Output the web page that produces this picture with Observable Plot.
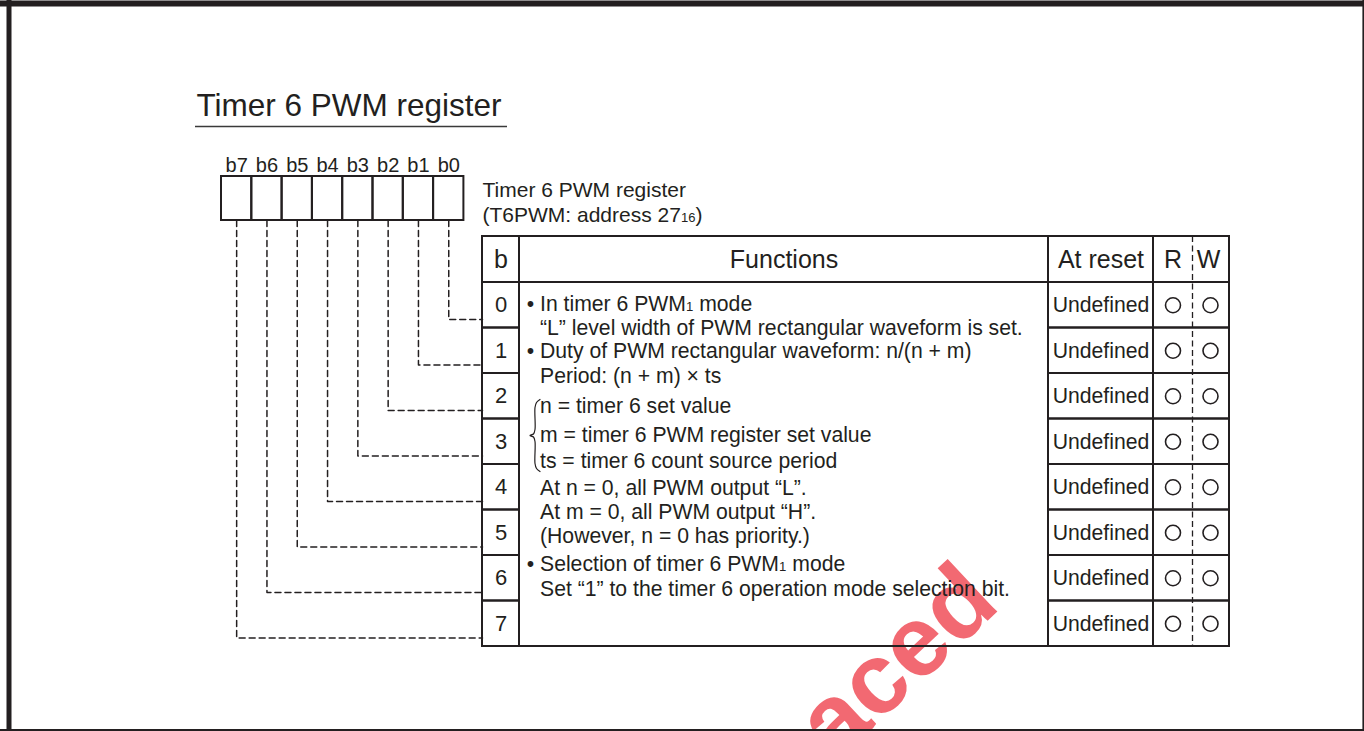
<!DOCTYPE html>
<html>
<head>
<meta charset="utf-8">
<script src="https://cdn.jsdelivr.net/npm/d3@7"></script>
<script src="https://cdn.jsdelivr.net/npm/@observablehq/plot@0.6"></script>
<style>
  html, body { margin: 0; padding: 0; background: #fff; overflow: hidden; }
  #chart { width: 1364px; height: 731px; }
</style>
</head>
<body>
<div id="chart"></div>
<script>
// ---------------- DATA ----------------
const title = "Timer 6 PWM register";
const bitLabels = ["b7", "b6", "b5", "b4", "b3", "b2", "b1", "b0"];
const bitNumbers = [7, 6, 5, 4, 3, 2, 1, 0];
const registerName = ["Timer 6 PWM register", "(T6PWM: address 27_16)"];
const headers = ["b", "Functions", "At reset", "R", "W"];
const rowBits = ["0", "1", "2", "3", "4", "5", "6", "7"];
const resetValues = ["Undefined", "Undefined", "Undefined", "Undefined", "Undefined", "Undefined", "Undefined", "Undefined"];
const readAccess = ["○", "○", "○", "○", "○", "○", "○", "○"];
const writeAccess = ["○", "○", "○", "○", "○", "○", "○", "○"];
const functionText = [
  "In timer 6 PWM_1 mode",
  "“L” level width of PWM rectangular waveform is set.",
  "Duty of PWM rectangular waveform: n/(n + m)",
  "Period: (n + m) × ts",
  "n = timer 6 set value",
  "m = timer 6 PWM register set value",
  "ts = timer 6 count source period",
  "At n = 0, all PWM output “L”.",
  "At m = 0, all PWM output “H”.",
  "(However, n = 0 has priority.)",
  "Selection of timer 6 PWM_1 mode",
  "Set “1” to the timer 6 operation mode selection bit."
];
const bulletLines = [0, 2, 10];
const braceLines = [4, 6];
const watermark = ["aced"];

// ---------------- LAYOUT ----------------
const L = {
  W: 1364, H: 731,
  ink: "#231f20",
  titleX: 196, titleY: 115, titleFont: 31.5, underlineY: 126, underlineX1: 195, underlineX2: 507,
  boxX: 221, cellW: 30.3, boxTop: 176, boxBottom: 220, bitLabelY: 171, bitFont: 20,
  subX: 482, subY: [196, 221], subFont: 21,
  colX: [482, 519, 1048, 1153, 1192, 1229],
  tableTop: 236, headerBottom: 282, rowH: 45.5,
  leaderOffset: 37,
  headerFont: 25, digitFont: 22, bodyFont: 21.2,
  funcX: 539.5, bulletX: 530,
  funcBaselines: [310, 334, 357, 382, 412, 441, 467, 494, 518, 542, 570, 595],
  wmX: 835, wmY: 762, wmFont: 100, wmRotate: -43, wmSpacing: 14
};

const rowTop = i => L.headerBottom + i * L.rowH;
const rowMid = i => rowTop(i) + L.rowH / 2;
const cellCenter = k => L.boxX + L.cellW * (k + 0.5);

// derived tables (from the data arrays above)
const boxCells = bitLabels.map((label, k) => ({label, k, x1: L.boxX + L.cellW * k, x2: L.boxX + L.cellW * (k + 1)}));

const leaders = bitNumbers.flatMap((b, k) => {
  const cx = cellCenter(k), ly = rowTop(b) + L.leaderOffset;
  return [
    {bit: b, x: cx, y: L.boxBottom},
    {bit: b, x: cx, y: ly},
    {bit: b, x: L.colX[0], y: ly}
  ];
});

const c = L.colX;
const headerCells = [[c[0], c[1]], [c[1], c[2]], [c[2], c[3]], [c[3], c[5]]]
  .map(([x1, x2]) => ({x1, x2, y1: L.tableTop, y2: L.headerBottom}));
const bodyCells = rowBits.flatMap((_, i) => [[c[0], c[1]], [c[2], c[3]], [c[3], c[5]]]
  .map(([x1, x2]) => ({x1, x2, y1: rowTop(i), y2: rowTop(i) + L.rowH})));
const functionCell = [{x1: c[1], x2: c[2], y1: L.headerBottom, y2: rowTop(rowBits.length)}];

const headerPos = [ (c[0]+c[1])/2, (c[1]+c[2])/2, (c[2]+c[3])/2, (c[3]+c[4])/2, (c[4]+c[5])/2 - 2.5 ];
const headerData = headers.map((h, i) => ({h, x: headerPos[i], y: (L.tableTop + L.headerBottom) / 2}));

const rowData = rowBits.map((b, i) => ({b, reset: resetValues[i], r: readAccess[i], w: writeAccess[i], y: rowMid(i)}));
const accessDots = rowData.flatMap(d => [
  ...(d.r === "○" ? [{x: (c[3] + c[4]) / 2, y: d.y}] : []),
  ...(d.w === "○" ? [{x: (c[4] + c[5]) / 2 - 0.5, y: d.y}] : [])
]);

const funcData = functionText.map((t, i) => ({t, i, y: L.funcBaselines[i]}));
const bulletData = bulletLines.map(i => ({i, y: L.funcBaselines[i]}));

// brace beside lines braceLines[0]..braceLines[1]
const bTop = L.funcBaselines[braceLines[0]] - 13;
const bBot = L.funcBaselines[braceLines[1]] + 4;
const bMid = (bTop + bBot) / 2;
const fx = L.funcX;
const brace = [
  [fx, bTop], [fx - 3.5, bTop + 3], [fx - 5, bTop + 8], [fx - 5, bMid - 6], [fx - 6.5, bMid - 1.5], [fx - 10, bMid],
  [fx - 6.5, bMid + 1.5], [fx - 5, bMid + 6], [fx - 5, bBot - 8], [fx - 3.5, bBot - 3], [fx, bBot]
].map(([x, y]) => ({x, y}));

// ---------------- PLOT ----------------
const plot = Plot.plot({
  width: L.W, height: L.H,
  margin: 0,
  x: {domain: [0, L.W], range: [0, L.W], axis: null},
  y: {domain: [0, L.H], range: [0, L.H], axis: null},
  style: {fontFamily: "'Liberation Sans', Arial, Helvetica, sans-serif", background: "#fff", color: L.ink, overflow: "hidden"},
  marks: [
    // watermark
    Plot.text(watermark, {x: () => L.wmX, y: () => L.wmY, text: d => d, rotate: L.wmRotate, fontSize: L.wmFont, fontWeight: "bold",
      textAnchor: "start", lineAnchor: "bottom", fill: "#ec2a36", fillOpacity: 0.7, ariaLabel: "watermark"}),
    // page frame
    Plot.ruleY([0], {y: () => 3, x1: 0, x2: L.W, stroke: L.ink, strokeWidth: 6}),
    Plot.ruleX([0], {x: () => 8.5, y1: 0, y2: L.H, stroke: L.ink, strokeWidth: 5}),
    Plot.ruleX([0], {x: () => 1363, y1: 0, y2: L.H, stroke: L.ink, strokeWidth: 2.2}),
    Plot.ruleY([0], {y: () => 729.8, x1: 0, x2: L.W, stroke: L.ink, strokeWidth: 2.4}),
    // title
    Plot.text([title], {x: () => L.titleX, y: () => L.titleY, text: d => d, fontSize: L.titleFont, textAnchor: "start", lineAnchor: "bottom", fill: L.ink}),
    Plot.ruleY([0], {y: () => L.underlineY, x1: L.underlineX1, x2: L.underlineX2, stroke: "#3a3a3a", strokeWidth: 1.4}),
    // bit labels and register box
    Plot.text(boxCells, {x: d => (d.x1 + d.x2) / 2, y: () => L.bitLabelY, text: "label", fontSize: L.bitFont, lineAnchor: "bottom", fill: L.ink}),
    Plot.rect(boxCells, {x1: "x1", x2: "x2", y1: () => L.boxTop, y2: () => L.boxBottom, fill: "none", stroke: L.ink, strokeWidth: 2}),
    // register name
    Plot.text(registerName, {x: () => L.subX, y: (d, i) => L.subY[i], text: d => d, fontSize: L.subFont, textAnchor: "start", lineAnchor: "bottom", fill: L.ink}),
    // dashed leader lines
    Plot.line(leaders, {x: "x", y: "y", z: "bit", stroke: L.ink, strokeWidth: 1.5, strokeDasharray: "6,4"}),
    // table
    Plot.rect(functionCell, {x1: "x1", x2: "x2", y1: "y1", y2: "y2", fill: "none", stroke: L.ink, strokeWidth: 2}),
    Plot.rect(headerCells, {x1: "x1", x2: "x2", y1: "y1", y2: "y2", fill: "none", stroke: L.ink, strokeWidth: 2}),
    Plot.rect(bodyCells, {x1: "x1", x2: "x2", y1: "y1", y2: "y2", fill: "none", stroke: L.ink, strokeWidth: 2}),
    Plot.ruleX([0], {x: () => c[4], y1: L.tableTop, y2: rowTop(rowBits.length), stroke: L.ink, strokeWidth: 1.3, strokeDasharray: "6,3.5"}),
    // header text
    Plot.text(headerData, {x: "x", y: "y", text: "h", fontSize: L.headerFont, lineAnchor: "middle", fill: L.ink}),
    // rows
    Plot.text(rowData, {x: () => (c[0] + c[1]) / 2, y: "y", text: "b", fontSize: L.digitFont, lineAnchor: "middle", fill: L.ink}),
    Plot.text(rowData, {x: () => (c[2] + c[3]) / 2, y: "y", text: "reset", fontSize: L.bodyFont, lineAnchor: "middle", fill: L.ink}),
    Plot.dot(accessDots, {x: "x", y: "y", r: 7.5, stroke: L.ink, strokeWidth: 1.6, fill: "none"}),
    // function description
    Plot.text(funcData, {x: () => L.funcX, y: "y", text: "t", fontSize: L.bodyFont, textAnchor: "start", lineAnchor: "bottom", fill: L.ink}),
    Plot.text(bulletData, {x: () => L.bulletX, y: "y", text: () => "•", fontSize: L.bodyFont, textAnchor: "middle", lineAnchor: "bottom", fill: L.ink}),
    Plot.line(brace, {x: "x", y: "y", curve: "catmull-rom", stroke: L.ink, strokeWidth: 1.2})
  ]
});

// subscripts: "_NN" -> small digits on the baseline
const NS = "http://www.w3.org/2000/svg";
plot.querySelectorAll("text").forEach(t => {
  if (t.children.length === 0 && t.textContent.includes("_")) {
    const parts = t.textContent.split(/_(\d+)/);
    t.textContent = "";
    parts.forEach((p, i) => {
      if (!p) return;
      const s = document.createElementNS(NS, "tspan");
      s.textContent = p;
      if (i % 2) s.setAttribute("font-size", "0.62em");
      t.appendChild(s);
    });
  }
});

// soft edges and letter spacing for the watermark
const defs = document.createElementNS(NS, "defs");
defs.innerHTML = '<filter id="wm-soft" x="-20%" y="-20%" width="140%" height="140%"><feGaussianBlur stdDeviation="1.8"/></filter>';
plot.insertBefore(defs, plot.firstChild);
const wm = plot.querySelector('g[aria-label="watermark"]');
if (wm) {
  wm.setAttribute("filter", "url(#wm-soft)");
  wm.setAttribute("letter-spacing", L.wmSpacing);
}

document.getElementById("chart").appendChild(plot);
</script>
</body>
</html>
